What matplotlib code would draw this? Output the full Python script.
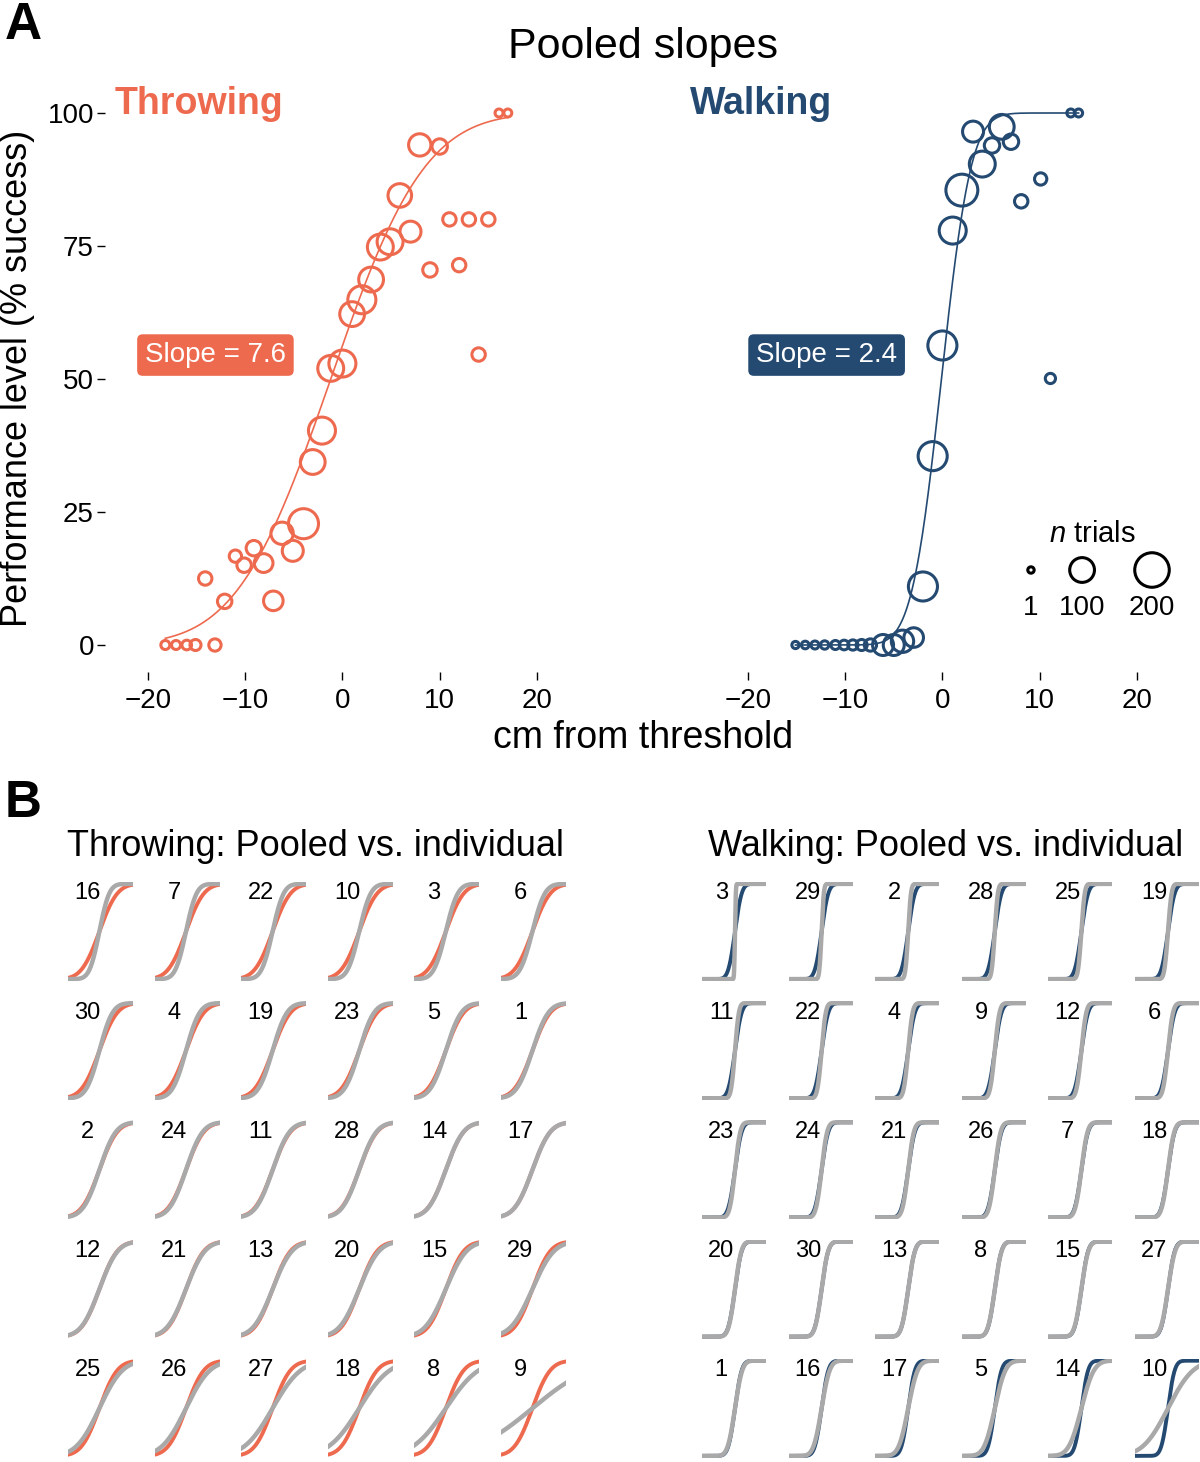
import math
import numpy as np
import matplotlib
matplotlib.use("Agg")
import matplotlib.pyplot as plt

plt.rcParams['font.family'] = ['Liberation Sans', 'DejaVu Sans']
plt.rcParams['mathtext.fontset'] = 'custom'
plt.rcParams['mathtext.rm'] = 'Liberation Sans'
plt.rcParams['mathtext.it'] = 'Liberation Sans:italic'

ORANGE = '#EE6A4F'
NAVY = '#244A72'
GREY = '#A9A9A9'

# ---- panel A data ----
throw_x = [16.1, 17.0, 7.95, 10.0, 5.9, 7.0, 11.0, 13.0, 15.0, 4.9, 3.9, 2.95, 2.0, 1.0,
           9.0, 12.0, 14.0, 0.0, -1.2, -2.1, -3.05, -4.0, -6.2, -5.1, -8.1, -9.1, -10.1,
           -11.0, -14.1, -12.1, -7.1, -18.2, -17.1, -16.0, -15.1, -13.1]
throw_y = [100, 100, 94.0, 93.7, 84.5, 77.7, 80, 80, 80, 75.8, 74.8, 68.7, 64.9, 62.2,
           70.5, 71.4, 54.6, 52.9, 52.0, 40.3, 34.4, 22.8, 21.0, 17.7, 15.4, 18.2, 15.0,
           16.7, 12.5, 8.2, 8.3, 0, 0, 0, 0, 0]
throw_n = [5, 5, 80, 35, 90, 70, 25, 25, 25, 110, 110, 100, 130, 100,
           30, 25, 25, 120, 110, 120, 100, 150, 80, 70, 55, 35, 30,
           20, 25, 30, 60, 8, 8, 10, 15, 20]
throw_mu, throw_slope = -1.2, 7.6

walk_x = [13.2, 14.0, 6.1, 3.15, 7.05, 5.1, 4.1, 2.0, 10.1, 8.1, 1.06, 0.0, 11.1, -1.0,
          -2.0, -2.95, -4.1, -5.0, -6.1, -7.4, -8.3, -9.2, -10.1, -11.0, -12.1, -13.1,
          -14.1, -15.1]
walk_y = [100, 100, 97.4, 96.5, 94.6, 93.9, 90.4, 85.5, 87.6, 83.4, 77.9, 56.3, 50.1, 35.5,
          11.0, 1.4, 0.7, 0, 0, 0, 0, 0, 0, 0, 0, 0, 0, 0]
walk_n = [5, 5, 100, 70, 35, 35, 110, 170, 20, 25, 120, 140, 12, 140,
          140, 60, 80, 70, 70, 20, 15, 12, 10, 8, 6, 5, 4, 3]
walk_mu, walk_slope = -0.1, 2.4

legend_n = [1, 100, 200]
legend_pos = [0.163, 0.432, 0.8]

# ---- panel B: subject ids (ordered) and individual slopes ----
throw_ids = [16, 7, 22, 10, 3, 6, 30, 4, 19, 23, 5, 1, 2, 24, 11, 28, 14, 17,
             12, 21, 13, 20, 15, 29, 25, 26, 27, 18, 8, 9]
throw_ind = [4.2, 4.5, 4.7, 4.9, 5.1, 5.3, 5.6, 5.8, 6.1, 6.3, 6.6, 6.8, 7.0, 7.1, 7.2,
             7.3, 7.5, 7.6, 7.8, 8.0, 8.2, 8.4, 8.8, 9.2, 9.8, 10.2, 12.0, 13.0, 14.0, 25.0]
walk_ids = [3, 29, 2, 28, 25, 19, 11, 22, 4, 9, 12, 6, 23, 24, 21, 26, 7, 18,
            20, 30, 13, 8, 15, 27, 1, 16, 17, 5, 14, 10]
walk_ind = [0.3, 0.8, 1.0, 1.1, 1.2, 1.3, 1.4, 1.5, 1.6, 1.7, 1.75, 1.8, 1.9, 2.0, 2.05,
            2.1, 2.2, 2.25, 2.3, 2.35, 2.4, 2.45, 2.5, 2.55, 2.6, 2.9, 3.4, 3.8, 4.5, 9.0]

erf = np.vectorize(math.erf)


def pcurve(x, mu, s):
    return 100 * 0.5 * (1 + erf((x - mu) / (s * math.sqrt(2))))


def msize(n):
    return 18 + 3.0 * np.asarray(n)


W, H = 1200, 1462
fig = plt.figure(figsize=(W / 100, H / 100), dpi=100)


def pooled_axes(left_px, xs, ys, ns, mu, s, color, slope_xy, show_y):
    ax = fig.add_axes([left_px / W, 1 - 671.6 / H, 474.8 / W, 585.2 / H])
    xx = np.linspace(min(xs), max(xs), 300)
    ax.plot(xx, pcurve(xx, mu, s), color=color, lw=1.2)
    ax.scatter(xs, ys, s=msize(ns), facecolors='none', edgecolors=color, linewidths=2.2)
    ax.set_xlim(-24.4, 24.4)
    ax.set_ylim(-5, 105)
    for sp in ax.spines.values():
        sp.set_visible(False)
    ax.set_xticks([-20, -10, 0, 10, 20])
    ax.set_xticklabels(['\u221220', '\u221210', '0', '10', '20'])
    ax.tick_params(axis='x', length=6, width=1, pad=6, labelsize=20)
    if show_y:
        ax.set_yticks([0, 25, 50, 75, 100])
        ax.tick_params(axis='y', length=6, width=1, pad=2, labelsize=20)
    else:
        ax.set_yticks([])
    ax.text(slope_xy[0], slope_xy[1], 'Slope = %.1f' % s, color='white', fontsize=20,
            ha='center', va='center',
            bbox=dict(boxstyle='round,pad=0.28,rounding_size=0.2', fc=color, ec='none'))
    return ax


axL = pooled_axes(105, throw_x, throw_y, throw_n, throw_mu, throw_slope, ORANGE,
                  (-13.05, 54.5), True)
axR = pooled_axes(705, walk_x, walk_y, walk_n, walk_mu, walk_slope, NAVY,
                  (-11.9, 54.5), False)

# n trials legend
lax = fig.add_axes([1000 / W, 1 - 625 / H, 190 / W, 110 / H])
lax.set_xlim(0, 1)
lax.set_ylim(0, 1)
lax.axis('off')
lax.scatter(legend_pos, [0.5] * 3, s=msize(legend_n), facecolors='none',
            edgecolors='black', linewidths=2.2, clip_on=False)
for p, n in zip(legend_pos, legend_n):
    lax.text(p, 0.155, str(n), ha='center', va='center', fontsize=20)
lax.text(0.484, 0.827, '$n$ trials', ha='center', va='center', fontsize=21)

fig.text(5 / W, 1 - 1 / H, 'A', fontsize=37, fontweight='bold', va='top')
fig.text(643 / W, 1 - 47 / H, 'Pooled slopes', fontsize=31, ha='center', va='center')
fig.text(115 / W, 1 - 104 / H, 'Throwing', fontsize=27, fontweight='bold',
         color=ORANGE, va='center')
fig.text(690 / W, 1 - 104 / H, 'Walking', fontsize=27, fontweight='bold',
         color=NAVY, va='center')
fig.text(18 / W, 1 - 378 / H, 'Performance level (% success)', fontsize=26,
         rotation=90, ha='center', va='center')
fig.text(643 / W, 1 - 738 / H, 'cm from threshold', fontsize=27, ha='center', va='center')

# ---- panel B ----
fig.text(5 / W, 1 - 779 / H, 'B', fontsize=37, fontweight='bold', va='top')
fig.text(67 / W, 1 - 847 / H, 'Throwing: Pooled vs. individual', fontsize=26, va='center')
fig.text(708 / W, 1 - 847 / H, 'Walking: Pooled vs. individual', fontsize=26, va='center')


def small_grid(ids, slopes, xs, mu, s_pool, color, left_px, width_px):
    lo, hi = min(xs), max(xs)
    xx = np.linspace(lo, hi, 300)
    for k, (sid, s) in enumerate(zip(ids, slopes)):
        r, c = divmod(k, 6)
        x0 = left_px + c * 86.6
        top = 882 + r * 119.2
        ax = fig.add_axes([x0 / W, 1 - (top + 99) / H, width_px / W, 99 / H])
        ax.plot(xx, pcurve(xx, mu, s_pool), color=color, lw=2.8)
        ax.plot(xx, pcurve(xx, mu, s), color=GREY, lw=3.2)
        ax.set_xlim(lo, hi)
        ax.set_ylim(-2, 102)
        ax.axis('off')
        ax.text(0.3, 0.885, str(sid), transform=ax.transAxes, ha='center', va='center',
                fontsize=17, zorder=5, clip_on=False)


small_grid(throw_ids, throw_ind, throw_x, throw_mu, throw_slope, ORANGE, 68, 65)
small_grid(walk_ids, walk_ind, walk_x, walk_mu, walk_slope, NAVY, 702, 64)

fig.savefig('out.png', dpi=100)
